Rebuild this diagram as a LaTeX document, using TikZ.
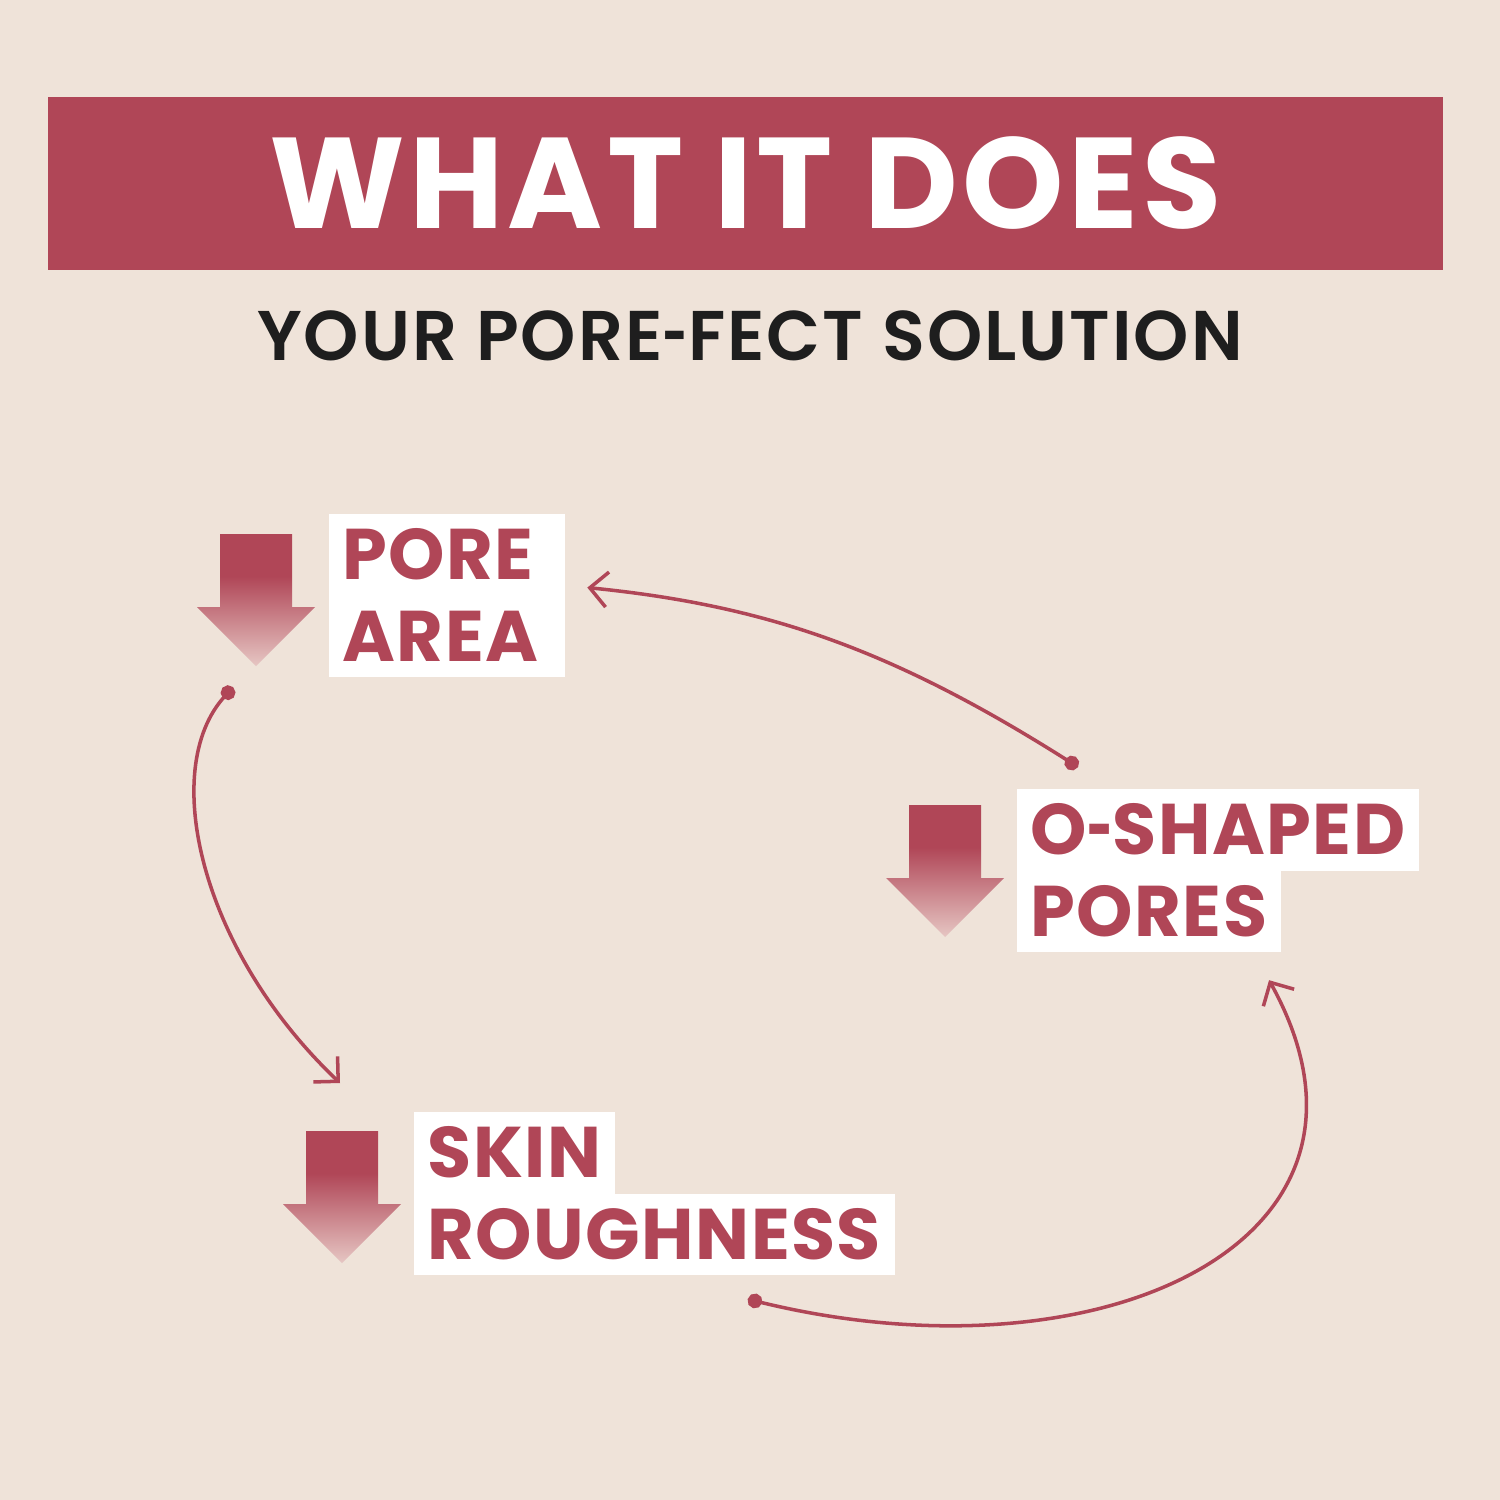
\documentclass[tikz,border=0pt]{standalone}
\usepackage{fontspec}
\setmainfont{Poppins}
\newfontfamily\subfamily{Poppins}[UprightFont=* SemiBold]
\usetikzlibrary{positioning,calc,arrows.meta}

\definecolor{brandred}{HTML}{B04657}
\definecolor{bgbeige}{HTML}{EFE3D9}
\definecolor{fadepink}{HTML}{E6C6C3}
\definecolor{inkdark}{HTML}{1E1E1E}

\pgfdeclareverticalshading{arrowfade}{100bp}{color(0bp)=(fadepink); color(25bp)=(fadepink); color(59bp)=(brandred); color(100bp)=(brandred)}

\newcommand\titlefont{\fontsize{36.7}{40}\selectfont\bfseries\addfontfeature{LetterSpace=3.2}}
\newcommand\subfont{\fontsize{20}{24}\selectfont\subfamily\addfontfeature{LetterSpace=2.9}}
\newcommand\lblfont{\fontsize{20.4}{22}\selectfont\bfseries\addfontfeature{LetterSpace=2}}
\newcommand\hy{\scalebox{0.62}[1]{-}}

\tikzset{
    banner/.style={fill=brandred, text=white, font=\titlefont, minimum width=13.95cm, minimum height=1.73cm, text height=25.6pt, text depth=0pt, inner sep=0pt},
    lbl/.style={fill=white, draw=white, line width=0.4pt, text=brandred, font=\lblfont, inner xsep=3.7pt, inner ysep=4.3pt, text height=14.2pt, text depth=0pt, anchor=north west},
    conn/.style={draw=brandred, line width=1pt, {Circle[length=4.2pt]}-{Straight Barb[length=5pt,width=10pt]}},
    fadearrow/.pic={
        \shade[shading=arrowfade] (-36,0) -- (36,0) -- (36,73) -- (59,73) -- (0,132) -- (-59,73) -- (-36,73) -- cycle;
    }
}

\begin{document}
\begin{tikzpicture}[x=0.01cm, y=-0.01cm]
    \useasboundingbox (0,0) rectangle (1500,1500);
    \fill[bgbeige] (0,0) rectangle (1500,1500);

    \node[banner] (banner) at (745.5,183.5) {WHAT IT DOES};
    \node[anchor=base, font=\subfont, text=inkdark] (subtitle) at (750,360) {YOUR PORE\hy FECT SOLUTION};

    \node[lbl, text width=59.4pt] (pore) at (329,514) {PORE};
    \node[lbl, text width=59.4pt] (area) at (pore.south west) {AREA};
    \node[lbl] (oshaped) at (1017,789) {O\hy SHAPED};
    \node[lbl] (pores) at (oshaped.south west) {PORES};
    \node[lbl] (skin) at (414,1112) {SKIN};
    \node[lbl] (rough) at (skin.south west) {ROUGHNESS};

    \pic at ($(pore.north west)+(-73,20)$) {fadearrow};
    \pic at ($(oshaped.north west)+(-72,16)$) {fadearrow};
    \pic at ($(skin.north west)+(-72,19)$) {fadearrow};

    \coordinate (d1) at ($(area.south west)+(-96,10)$);
    \coordinate (e1) at ($(skin.north west)+(-74,-29)$);
    \coordinate (d2) at ($(rough.south east)+(-147,24)$);
    \coordinate (e2) at ($(pores.south east)+(-12,28)$);
    \coordinate (d3) at ($(oshaped.north west)+(61,-22)$);
    \coordinate (e3) at ($(pore.south east)+(22,-8)$);

    \draw[conn] (d1) .. controls +(-74,82) and +(-140,-133) .. (e1);
    \draw[conn] (d2) .. controls +(352,86) and +(145,262) .. (e2);
    \draw[conn] (d3) .. controls +(-185,-117) and +(180,18) .. (e3);
\end{tikzpicture}
\end{document}
